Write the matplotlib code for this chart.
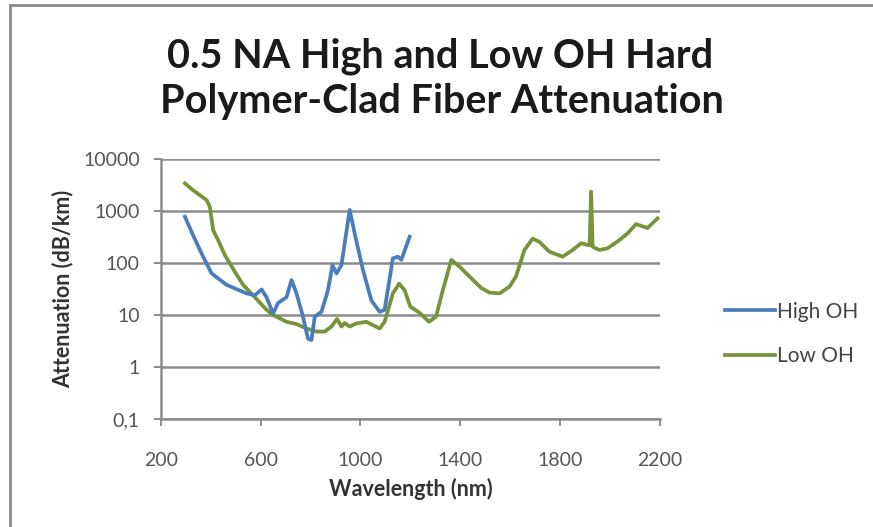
import matplotlib
matplotlib.use("Agg")
import matplotlib.pyplot as plt
from matplotlib.lines import Line2D

# High OH fiber (blue)
high_wl = [297, 335, 370, 404, 464, 544, 577, 604, 624, 650, 670, 704, 724, 744,
           770, 790, 804, 817, 844, 870, 888, 904, 924, 957, 977, 1010, 1044,
           1077, 1097, 1130, 1150, 1164, 1197]
high_att = [775, 300, 132, 63, 38, 26, 24, 31, 22, 10.7, 17, 22, 47, 26,
            9.3, 3.5, 3.3, 9.3, 11.5, 30, 91, 63, 91, 1050, 370, 74, 19,
            11.5, 12.6, 123, 132, 115, 320]

# Low OH fiber (green)
low_wl = [297, 330, 384, 397, 410, 430, 457, 497, 530, 577, 624, 650, 704, 744,
          784, 824, 857, 884, 906, 924, 937, 957, 984, 1024, 1050, 1077, 1097,
          1130, 1155, 1177, 1200, 1237, 1275, 1303, 1330, 1364, 1397, 1437,
          1484, 1517, 1557, 1597, 1623, 1657, 1690, 1717, 1757, 1810, 1850,
          1884, 1910, 1918, 1924, 1930, 1957, 1990, 2037, 2070, 2104, 2150, 2190]
low_att = [3400, 2500, 1620, 1200, 430, 275, 142, 68, 38, 22, 12.6, 10, 7.4, 6.7,
           5.5, 4.8, 4.8, 6, 8.4, 6, 7, 6, 6.9, 7.4, 6.4, 5.5, 7.4,
           26, 40, 30, 14.5, 11, 7.4, 9.3, 30, 115, 85, 55,
           33, 27, 26, 35, 55, 178, 295, 255, 165, 132, 178,
           240, 222, 220, 2350, 205, 178, 192, 275, 370, 560, 470, 720]

y_ticks = [0.1, 1, 10, 100, 1000, 10000]
y_tick_labels = ["0,1", "1", "10", "100", "1000", "10000"]
x_ticks = [200, 600, 1000, 1400, 1800, 2200]

plt.rcParams["font.family"] = ["Lato", "DejaVu Sans"]

fig = plt.figure(figsize=(8.73, 5.27), dpi=100)
ax = fig.add_axes([160.7 / 873, 1 - 419 / 527, (660 - 160.7) / 873, (419 - 159) / 527])

blue = "#4a7ebb"
green = "#77933c"
grid_c = "#8c8c8c"

ax.plot(high_wl, high_att, color=blue, lw=2.7, label="High OH", zorder=3)
ax.plot(low_wl, low_att, color=green, lw=2.7, label="Low OH", zorder=2)

ax.set_yscale("log")
ax.set_ylim(0.1, 10000)
ax.set_xlim(200, 2200)
ax.set_yticks(y_ticks)
ax.set_yticklabels(y_tick_labels)
ax.minorticks_off()
ax.set_xticks(x_ticks)
ax.tick_params(axis="both", colors=grid_c, labelcolor="#555555", labelsize=14,
               length=5, width=1.4)
ax.tick_params(axis="y", pad=10)
ax.tick_params(axis="x", pad=19)
ax.grid(axis="y", color=grid_c, lw=1.8)
ax.set_axisbelow(True)
for s in ["top", "right"]:
    ax.spines[s].set_visible(False)
for s in ["left", "bottom"]:
    ax.spines[s].set_color(grid_c)
    ax.spines[s].set_linewidth(1.8)

ax.set_xlabel("Wavelength (nm)", fontsize=15.5, fontweight="bold", color="#333333",
              labelpad=6)
ax.set_ylabel("Attenuation (dB/km)", fontsize=15.5, fontweight="bold", color="#333333",
              labelpad=7)

fig.text(0.504, 1 - 56 / 527, "0.5 NA High and Low OH Hard", ha="center", va="center",
         fontsize=28.5, fontweight="bold", color="#1a1a1a")
fig.text(0.506, 1 - 101 / 527, "Polymer-Clad Fiber Attenuation", ha="center",
         va="center", fontsize=28.5, fontweight="bold", color="#1a1a1a")

leg = fig.legend(loc="upper left", bbox_to_anchor=(706 / 873, 1 - 283 / 527),
                 frameon=False, fontsize=15, handlelength=2.4, handletextpad=0.1,
                 labelspacing=1.18, labelcolor="#444444")

# chart-area border (left and top edges visible)
fig.add_artist(Line2D([10 / 873, 10 / 873], [0, 1 - 5 / 527], transform=fig.transFigure,
                      color="#8a8a8a", lw=2))
fig.add_artist(Line2D([10 / 873, 1], [1 - 5 / 527, 1 - 5 / 527], transform=fig.transFigure,
                      color="#8a8a8a", lw=2))

fig.savefig("out.png", dpi=100)
